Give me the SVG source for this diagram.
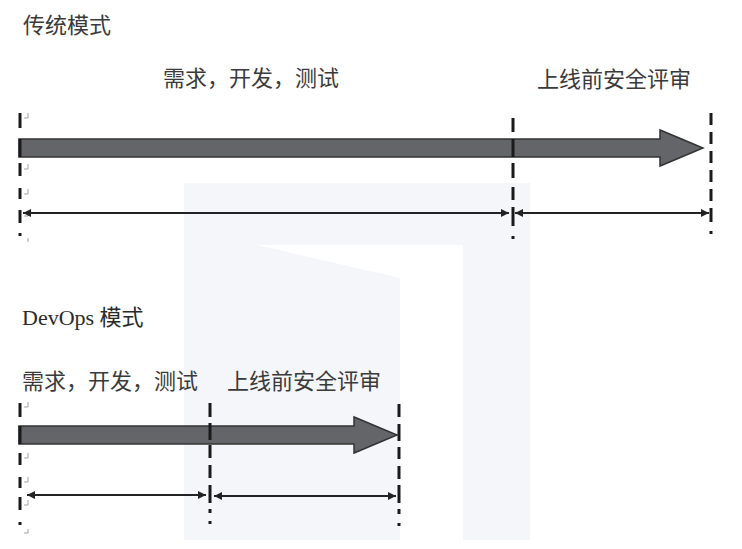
<svg xmlns="http://www.w3.org/2000/svg" width="742" height="549" viewBox="0 0 742 549">
<style>
.t{font-family:"Noto Sans CJK SC","Liberation Sans",sans-serif;font-size:22px;fill:#3a3a3a}
.ts{font-family:"Liberation Serif","Noto Sans CJK SC",serif;font-size:22px;fill:#2a2a2a}
.dash{stroke:#1a1a1a;stroke-width:3;fill:none}
.block{fill:#646569;stroke:#333;stroke-width:1.5;stroke-linejoin:miter}
.dim{stroke:#222;stroke-width:2;fill:none}
.pm{stroke:#999;stroke-width:0.9;fill:none}
</style>
<defs>
<marker id="ah" viewBox="0 0 10 10" refX="10" refY="5" markerWidth="10" markerHeight="8" markerUnits="userSpaceOnUse" orient="auto-start-reverse">
<path d="M0,0 L10,5 L0,10 Z" fill="#222"/>
</marker>
</defs>
<rect width="742" height="549" fill="#fff"/>
<g id="watermark">
<rect x="184" y="183" width="346" height="357" fill="#f4f6fa"/>
<polygon points="257,245 463,245 463,540 400,540 400,278" fill="#fff"/>
</g>
<g id="traditional">
<g id="title-traditional"><text class="t" x="23" y="33">传统模式</text></g>
<g id="label-trad-dev"><text class="t" x="163" y="86">需求，开发，测试</text></g>
<g id="label-trad-review"><text class="t" x="537" y="87">上线前安全评审</text></g>
<g id="arrow-trad"><path class="block" d="M19,139 H660 V130 L703,148 L660,166 V157 H19 Z"/></g>
<g id="markers-trad">
<path class="dash" d="M20,113v15 M20,139v18 M20,163v13 M20,188v11 M20,210v13 M20,233v3"/>
<path class="pm" d="M28,113v5h-4 M28,164v5h-4 M28,189v5h-4 M28,211v5h-4 M28,238v4"/>
<path class="dash" d="M513,118v14 M513,139v18 M513,163v15 M513,187v13 M513,207v19 M513,236v3"/>
<path class="dash" d="M711,113v12 M711,132v12 M711,151v12 M711,170v12 M711,189v12 M711,208v14 M711,231v3"/>
</g>
</g>
<g id="devops">
<g id="title-devops"><text class="ts" x="22" y="325">DevOps 模式</text></g>
<g id="label-dev-dev"><text class="t" x="22" y="389">需求，开发，测试</text></g>
<g id="label-dev-review"><text class="t" x="227" y="389">上线前安全评审</text></g>
<g id="arrow-devops"><path class="block" d="M19,426 H354 V417 L397,435 L354,453 V444 H19 Z"/></g>
<g id="markers-devops">
<path class="dash" d="M20,403v14 M20,426v18 M20,453v12 M20,477v11 M20,497v13 M20,522v3"/>
<path class="pm" d="M28,402v5h-4 M28,453v5h-4 M28,477v5h-4 M28,500v5h-4 M28,529v4h-4"/>
<path class="dash" d="M210,403v14 M210,423v17 M210,445v13 M210,465v13 M210,485v18 M210,509v4 M210,521v3"/>
<path class="dash" d="M399,404v13 M399,424v17 M399,447v12 M399,466v13 M399,485v18 M399,509v5 M399,523v3"/>
</g>
</g>
<g id="connectors">
<line class="dim" x1="23" y1="213" x2="509" y2="213" marker-start="url(#ah)" marker-end="url(#ah)"/>
<line class="dim" x1="515" y1="213" x2="709" y2="213" marker-start="url(#ah)" marker-end="url(#ah)"/>
<line class="dim" x1="27" y1="495" x2="206" y2="495" marker-start="url(#ah)" marker-end="url(#ah)"/>
<line class="dim" x1="214" y1="496" x2="396" y2="496" marker-start="url(#ah)" marker-end="url(#ah)"/>
</g>
</svg>
